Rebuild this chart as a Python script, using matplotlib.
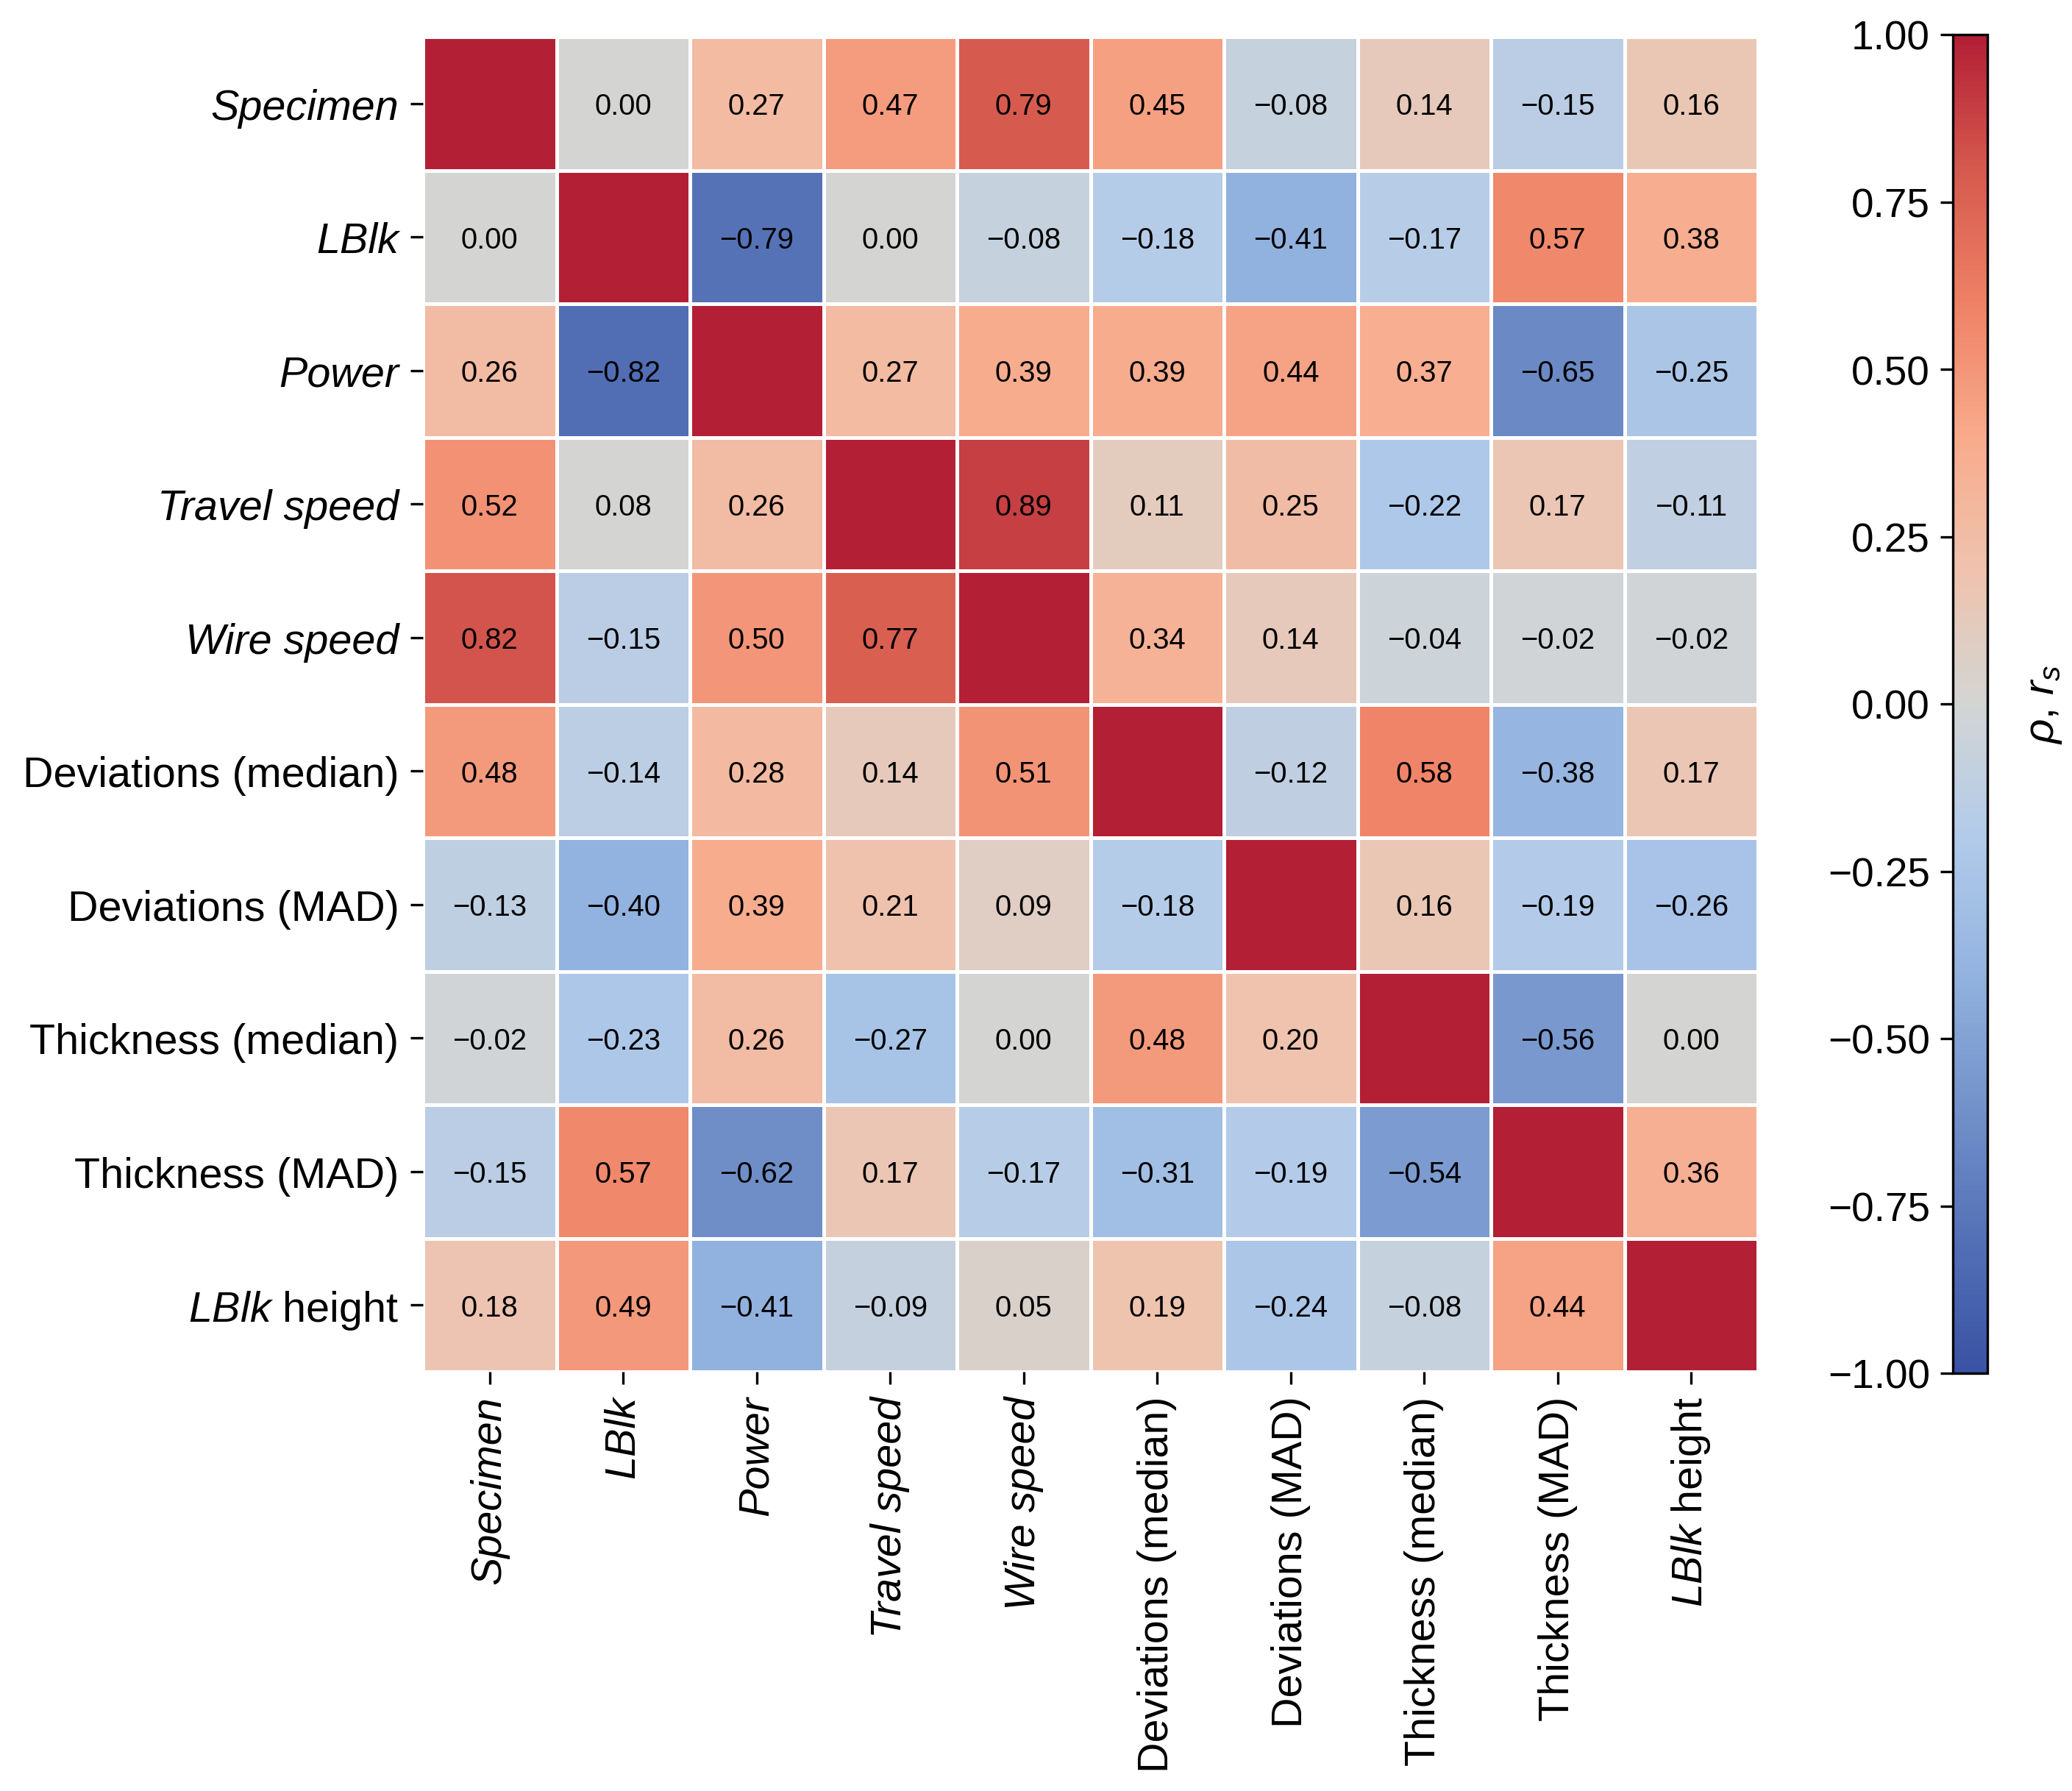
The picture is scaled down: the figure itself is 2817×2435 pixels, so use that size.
import numpy as np
import matplotlib
matplotlib.use("Agg")
import matplotlib.pyplot as plt
import matplotlib.ticker as mtick
from matplotlib.colors import LinearSegmentedColormap

plt.rcParams['font.family'] = ['Liberation Sans', 'DejaVu Sans']
plt.rcParams['mathtext.fontset'] = 'custom'
plt.rcParams['mathtext.rm'] = 'Liberation Sans'
plt.rcParams['mathtext.it'] = 'Liberation Sans:italic'

Labels = ["Specimen", "LBlk", "Power", "Travel speed", "Wire speed",
          "Deviations (median)", "Deviations (MAD)",
          "Thickness (median)", "Thickness (MAD)", "$\\mathit{LBlk}$ height"]
Italic = [True, True, True, True, True, False, False, False, False, False]

# upper triangle: Spearman, lower triangle: Pearson (diagonal = 1)
corr = np.array([
    [1.00, 0.00, 0.27, 0.47, 0.79, 0.45, -0.08, 0.14, -0.15, 0.16],
    [0.00, 1.00, -0.79, 0.00, -0.08, -0.18, -0.41, -0.17, 0.57, 0.38],
    [0.26, -0.82, 1.00, 0.27, 0.39, 0.39, 0.44, 0.37, -0.65, -0.25],
    [0.52, 0.08, 0.26, 1.00, 0.89, 0.11, 0.25, -0.22, 0.17, -0.11],
    [0.82, -0.15, 0.50, 0.77, 1.00, 0.34, 0.14, -0.04, -0.02, -0.02],
    [0.48, -0.14, 0.28, 0.14, 0.51, 1.00, -0.12, 0.58, -0.38, 0.17],
    [-0.13, -0.40, 0.39, 0.21, 0.09, -0.18, 1.00, 0.16, -0.19, -0.26],
    [-0.02, -0.23, 0.26, -0.27, 0.00, 0.48, 0.20, 1.00, -0.56, 0.00],
    [-0.15, 0.57, -0.62, 0.17, -0.17, -0.31, -0.19, -0.54, 1.00, 0.36],
    [0.18, 0.49, -0.41, -0.09, 0.05, 0.19, -0.24, -0.08, 0.44, 1.00],
])

# the cell Travel speed / LBlk is shaded as zero in the original
shade = corr.copy()
shade[3, 1] = 0.00

# colour anchors (-1 ... 1)
Cmap_values = [-1.0, -0.8, -0.6, -0.4, -0.2, 0.0, 0.2, 0.4, 0.6, 0.8, 1.0]
Cmap_colors = ["#3A53A4", "#5471B7", "#7392CA", "#93B3DF", "#B2CBEA", "#D3D5D4",
               "#EFC3AE", "#F8AB8C", "#EF8166", "#D65A4E", "#B31F35"]


def fmt_minus(v):
    return "{:.2f}".format(v).replace("-", "\u2212")


def plot_corr():
    cmap = LinearSegmentedColormap.from_list(
        "corr", list(zip([(v + 1) / 2 for v in Cmap_values], Cmap_colors)))

    fig = plt.figure(figsize=(2817 / 300, 2436 / 300), dpi=300)
    ax = fig.add_axes([575 / 2817, 1 - 1866 / 2436, 1815 / 2817, 1815 / 2436])
    cax = fig.add_axes([2655 / 2817, 1 - 1868 / 2436, 47 / 2817, 1820 / 2436])

    n = len(Labels)
    mesh = ax.pcolormesh(shade, cmap=cmap, vmin=-1, vmax=1,
                         edgecolors="white", linewidth=1.1)
    for i in range(n):
        for j in range(n):
            if i == j:
                continue
            ax.text(j + 0.5, i + 0.52, fmt_minus(corr[i, j]), ha="center",
                    va="center", fontsize=9.6, color="black")

    ax.set_xlim(0, n)
    ax.set_ylim(n, 0)
    ax.set_xticks(np.arange(n) + 0.5)
    ax.set_yticks(np.arange(n) + 0.5)
    ax.set_xticklabels(Labels, rotation=90, fontsize=13.8)
    ax.set_yticklabels(Labels, fontsize=13.8)
    for lab, it in zip(ax.get_xticklabels(), Italic):
        if it:
            lab.set_fontstyle("italic")
    for lab, it in zip(ax.get_yticklabels(), Italic):
        if it:
            lab.set_fontstyle("italic")
    ax.tick_params(length=4, width=0.8, pad=3.8)
    for s in ax.spines.values():
        s.set_visible(False)

    cb = fig.colorbar(mesh, cax=cax)
    cb.set_ticks(np.linspace(-1, 1, 9))
    cax.yaxis.set_major_formatter(mtick.FuncFormatter(lambda v, p: fmt_minus(v)))
    cax.yaxis.set_ticks_position("left")
    cax.yaxis.set_label_position("right")
    cax.tick_params(labelsize=13.2, length=4, width=0.8, pad=3.5)
    cb.outline.set_linewidth(0.8)
    cax.set_ylabel("$\\rho$, $r_s$", fontsize=14, rotation=90, labelpad=12)

    fig.savefig("out.png", dpi=300)


if __name__ == "__main__":
    plot_corr()
